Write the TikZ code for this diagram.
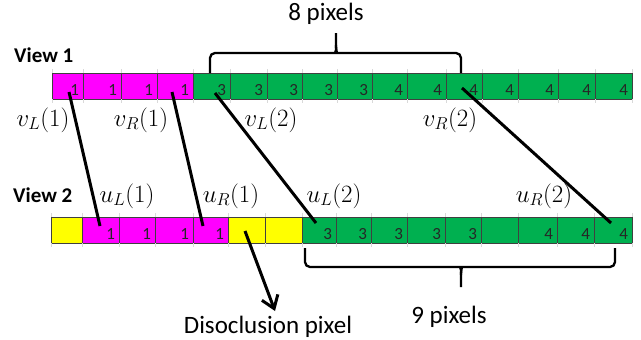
\documentclass[tikz,border=0pt]{standalone}
\usepackage[no-math]{fontspec}
\setmainfont{Carlito}
\usetikzlibrary{arrows.meta,calc}
\definecolor{mag}{HTML}{FF00FF}
\definecolor{grn}{HTML}{00B050}
\definecolor{yel}{HTML}{FFFF00}
\begin{document}
\begin{tikzpicture}[x=1pt,y=-1pt,
  cell/.style={draw=black!75, line width=0.8pt, inner sep=0pt, minimum height=26pt, anchor=west},
  digit/.style={font=\fontsize{17}{18}\selectfont, text=black!85, inner sep=0pt, anchor=base east},
  tick/.style={draw=black!15, line width=0.6pt},
  conn/.style={line width=3pt, draw=black},
  brace/.style={line width=2.3pt, draw=black, rounded corners=5pt},
  big/.style={font=\fontsize{25}{28}\selectfont, inner sep=0pt, anchor=base},
  view/.style={font=\fontsize{21}{24}\selectfont\bfseries, inner sep=0pt, anchor=base west},
  mathlab/.style={font=\fontsize{25}{28}\selectfont, inner sep=0pt}]
\useasboundingbox (0,0) rectangle (641,340);
% View 1 cells
\foreach \i/\x/\w/\c/\v in {1/52/31/mag/1,2/83/38/mag/1,3/121/36/mag/1,4/157/36/mag/1,
  5/193/37/grn/3,6/230/37/grn/3,7/267/35/grn/3,8/302/35/grn/3,9/337/35/grn/3,
  10/372/35/grn/4,11/407/39/grn/4,12/446/36/grn/4,13/482/36/grn/4,14/518/40/grn/4,
  15/558/37/grn/4,16/595/37/grn/4}{
  \node[cell, fill=\c, minimum width=\w pt] (a\i) at (\x,86) {};
  \node[digit] (ad\i) at ($(a\i.south east)+(-4.5,-4)$) {\v};
  \draw[tick] (\x,69) -- (\x,73) (\x,99) -- (\x,103);
}
\draw[tick] (632,69) -- (632,73) (632,99) -- (632,103);
% View 2 cells
\foreach \i/\x/\w/\c/\v in {1/51/31/yel/,2/82/37/mag/1,3/119/36/mag/1,4/155/38/mag/1,
  5/193/35/mag/1,6/228/37/yel/,7/265/37/yel/,8/302/34/grn/3,9/336/35/grn/3,
  10/371/36/grn/3,11/407/38/grn/3,12/445/36/grn/3,13/481/37/grn/,14/518/39/grn/4,
  15/557/37/grn/4,16/594/38/grn/4}{
  \node[cell, fill=\c, minimum width=\w pt] (b\i) at (\x,230) {};
  \node[digit] (bd\i) at ($(b\i.south east)+(-4.5,-4)$) {\v};
  \draw[tick] (\x,213) -- (\x,217) (\x,243) -- (\x,247);
}
\draw[tick] (632,213) -- (632,217) (632,243) -- (632,247);
% labels
\node[view] (v1) at (14,62) {View 1};
\node[view] (v2) at (13,202) {View 2};
\node[mathlab] (vl1) at (43,120) {$v_L(1)$};
\node[mathlab] (vr1) at (141,120) {$v_R(1)$};
\node[mathlab] (vl2) at (271,120) {$v_L(2)$};
\node[mathlab] (vr2) at (450,120) {$v_R(2)$};
\node[mathlab] (ul1) at (127,196) {$u_L(1)$};
\node[mathlab] (ur1) at (231,196) {$u_R(1)$};
\node[mathlab] (ul2) at (334,196) {$u_L(2)$};
\node[mathlab] (ur2) at (544,196) {$u_R(2)$};
\node[big] (t8) at (326,20) {8 pixels};
\node[big] (t9) at (449,323) {9 pixels};
\node[big] (td) at (268,333) {Disoclusion pixel};
% connectors
\coordinate (s1) at (69,92);  \coordinate (e1) at (100,226);
\coordinate (s2) at (172,92); \coordinate (e2) at (203,226);
\coordinate (s3) at (215,93); \coordinate (e3) at (316,223);
\coordinate (s4) at (462,88); \coordinate (e4) at (611,223);
\coordinate (s5) at (245,231); \coordinate (e5) at (275,311);
\draw[conn] (s1) -- (e1);
\draw[conn] (s2) -- (e2);
\draw[conn] (s3) -- (e3);
\draw[conn] (s4) -- (e4);
\draw[conn, -{Straight Barb[length=12pt,width=17pt]}] (s5) -- (e5);
% top brace
\draw[brace] (210,73) -- (210,53) -- (330,53) .. controls (335,53) and (336,50) .. (336,45) -- (336,33);
\draw[brace] (461,73) -- (461,53) -- (342,53) .. controls (337,53) and (336,50) .. (336,45);
% bottom brace
\draw[brace] (305,248) -- (305,267) -- (455,267) .. controls (460,267) and (461,270) .. (461,275) -- (461,287);
\draw[brace] (615,248) -- (615,267) -- (467,267) .. controls (462,267) and (461,270) .. (461,275);
\end{tikzpicture}
\end{document}
